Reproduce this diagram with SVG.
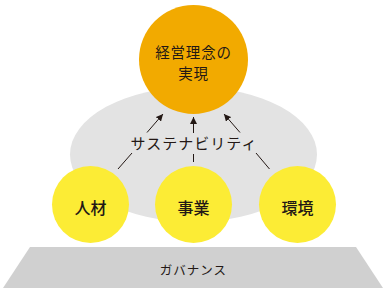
<svg xmlns="http://www.w3.org/2000/svg" width="386" height="293" viewBox="0 0 386 293">
<defs>
<style>
.t{font-family:"Noto Sans CJK JP","Noto Sans",sans-serif;fill:#231815;text-anchor:middle;dominant-baseline:central;}
.b{font-weight:500;}
.ln{stroke:#231815;stroke-width:1;fill:none;}
</style>
<marker id="ah" viewBox="0 0 10 10" refX="10" refY="5" markerWidth="7" markerHeight="7" markerUnits="userSpaceOnUse" orient="auto">
<path d="M0,0 L10,5 L0,10 Z" fill="#231815"/>
</marker>
</defs>
<g id="governance">
<polygon points="30,247 356,247 383,288 3,288" fill="#d0d0d0"/>
<text class="t" x="193.5" y="269.5" font-size="12.5" letter-spacing="1">ガバナンス</text>
</g>
<g id="sustainability">
<ellipse cx="193.5" cy="154.5" rx="123.5" ry="67.5" fill="#e3e3e3"/>
<text class="t" x="194" y="142.5" font-size="15" letter-spacing="1">サステナビリティ</text>
</g>
<g id="vision">
<circle cx="193.5" cy="59.5" r="54.5" fill="#f2aa00"/>
<text class="t" x="193.5" y="51.5" font-size="14.5" letter-spacing="0.8">経営理念の</text>
<text class="t" x="193.5" y="72" font-size="14.5" letter-spacing="0.8">実現</text>
</g>
<g id="jinzai">
<circle cx="90.5" cy="204.5" r="38.5" fill="#fcec35"/>
<text class="t b" x="90.5" y="207" font-size="16">人材</text>
</g>
<g id="jigyo">
<circle cx="193.5" cy="204.5" r="38.5" fill="#fcec35"/>
<text class="t b" x="193.5" y="207" font-size="16">事業</text>
</g>
<g id="kankyo">
<circle cx="297.5" cy="204.5" r="38.5" fill="#fcec35"/>
<text class="t b" x="297.5" y="207" font-size="16">環境</text>
</g>
<g id="connectors">
<line class="ln" x1="147" y1="132.5" x2="163" y2="114" marker-end="url(#ah)"/>
<line class="ln" x1="193.5" y1="133" x2="193.5" y2="117" marker-end="url(#ah)"/>
<line class="ln" x1="240" y1="132.5" x2="224" y2="114" marker-end="url(#ah)"/>
<line class="ln" x1="118" y1="169" x2="132" y2="153"/>
<line class="ln" x1="193.5" y1="154" x2="193.5" y2="162"/>
<line class="ln" x1="256" y1="153" x2="269.5" y2="169"/>
</g>
</svg>
